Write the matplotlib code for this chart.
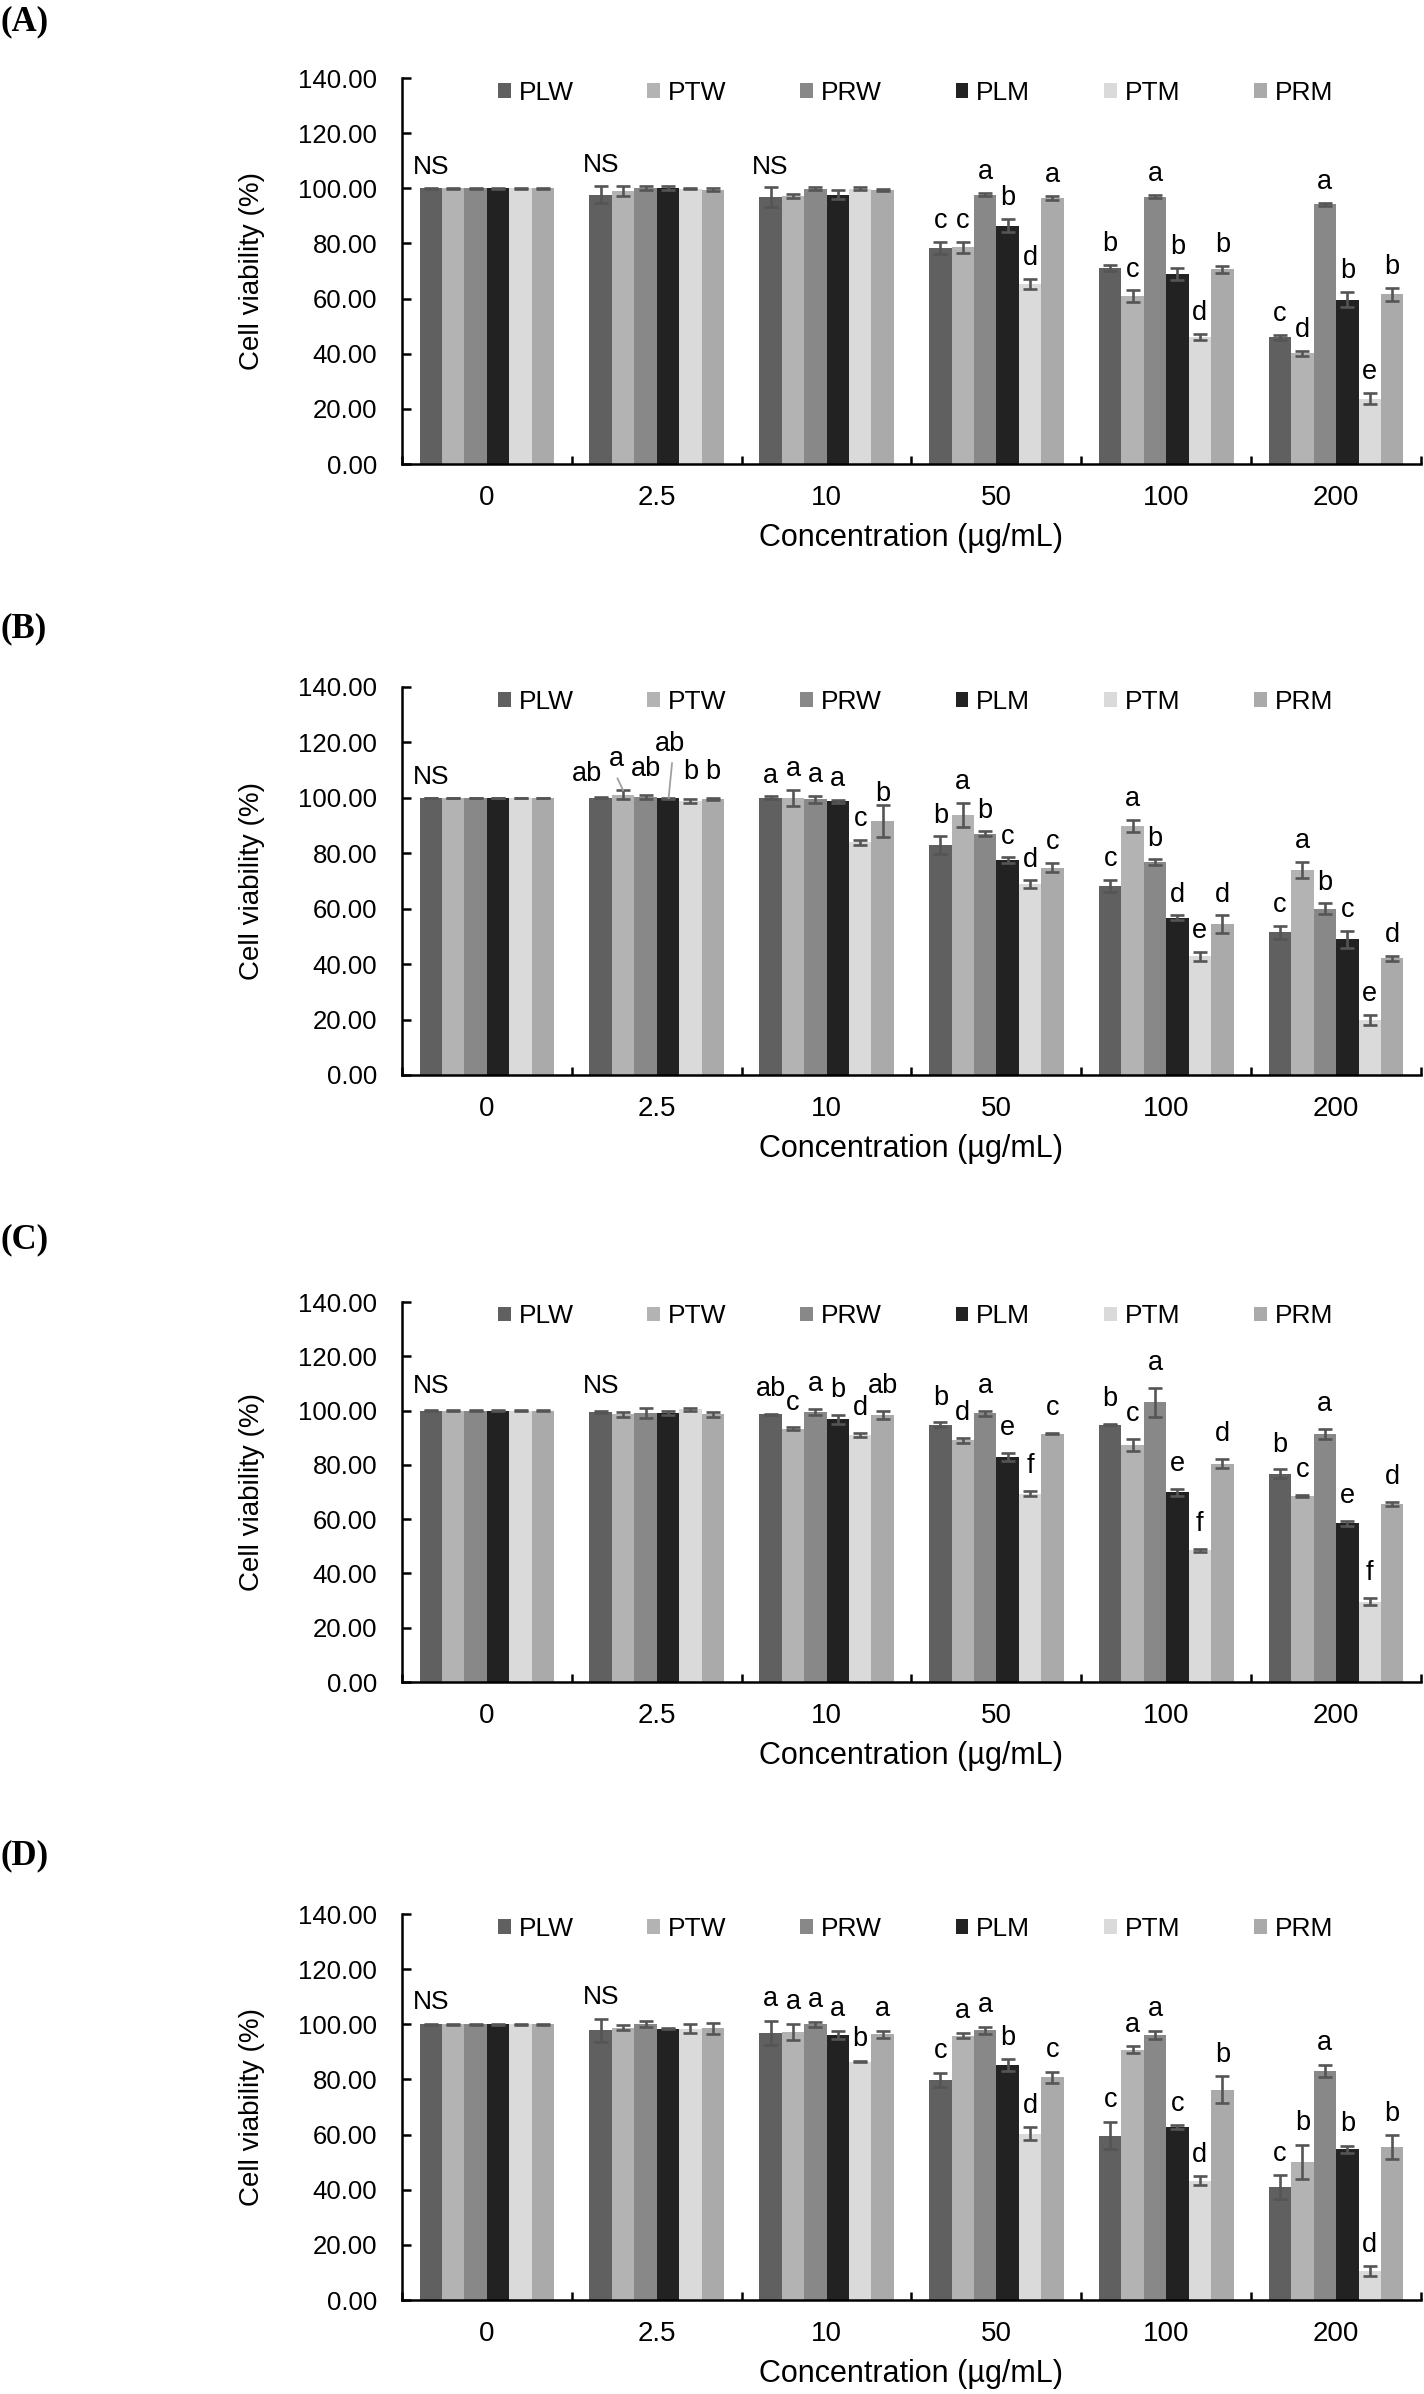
import numpy as np
import matplotlib
matplotlib.use('Agg')
import matplotlib.pyplot as plt

plt.rcParams['font.family'] = ['Liberation Sans', 'DejaVu Sans']

series = ['PLW', 'PTW', 'PRW', 'PLM', 'PTM', 'PRM']
concentrations = ['0', '2.5', '10', '50', '100', '200']
colors = ['#606060', '#b3b3b3', '#888888', '#222222', '#dadada', '#aaaaaa']

# rows = series (PLW..PRM), columns = concentration
a_mean = [[100, 97.7, 96.7, 78.3, 71.1, 45.9],
          [100, 98.9, 97.2, 78.6, 60.8, 40.2],
          [100, 100.0, 99.9, 97.7, 97.0, 94.2],
          [100, 100.2, 97.7, 86.4, 68.9, 59.6],
          [100, 99.9, 99.9, 65.3, 46.2, 23.7],
          [100, 99.5, 99.4, 96.5, 70.6, 61.5]]
a_err = [[0.1, 3.1, 3.6, 2.2, 1.1, 0.8],
         [0.1, 1.8, 0.7, 2.0, 2.2, 0.9],
         [0.1, 0.7, 0.5, 0.5, 0.5, 0.6],
         [0.1, 0.8, 1.6, 2.4, 2.3, 2.7],
         [0.1, 0.2, 0.4, 1.8, 1.1, 2.1],
         [0.1, 0.6, 0.5, 0.7, 1.2, 2.4]]
a_letters = ['NS', 'NS', 'NS', 'c c a b d a', 'b c a b d b', 'c d a b e b']

b_mean = [[100, 100.0, 100.0, 83.0, 68.1, 51.5],
          [100, 101.1, 100.1, 93.9, 89.9, 74.0],
          [100, 100.4, 99.5, 87.1, 76.8, 60.0],
          [100, 99.8, 98.7, 77.5, 56.8, 48.9],
          [100, 98.9, 83.9, 68.8, 42.8, 19.9],
          [100, 99.6, 91.6, 74.8, 54.5, 42.1]]
b_err = [[0.1, 0.2, 0.5, 3.1, 2.2, 2.3],
         [0.1, 1.6, 2.9, 4.4, 2.2, 2.8],
         [0.1, 0.7, 1.3, 0.8, 1.0, 1.9],
         [0.1, 0.2, 0.7, 1.0, 0.8, 3.1],
         [0.1, 0.6, 0.9, 1.4, 1.6, 1.7],
         [0.1, 0.4, 5.8, 1.6, 3.1, 1.0]]
b_letters = ['NS', 'ab a ab ab b b', 'a a a a c b', 'b a b c d c', 'c a b d e d', 'c a b c e d']

c_mean = [[100, 99.5, 98.6, 94.8, 94.8, 76.7],
          [100, 98.6, 93.3, 89.0, 87.4, 68.6],
          [100, 99.1, 99.6, 99.0, 103.0, 91.4],
          [100, 99.1, 96.8, 83.0, 69.9, 58.5],
          [100, 100.4, 91.0, 69.4, 48.5, 29.6],
          [100, 98.6, 98.4, 91.5, 80.5, 65.6]]
c_err = [[0.1, 0.3, 0.3, 0.9, 0.2, 1.6],
         [0.1, 1.0, 0.5, 1.0, 2.3, 0.4],
         [0.1, 1.9, 1.1, 0.9, 5.3, 1.9],
         [0.1, 0.7, 1.7, 1.4, 1.3, 0.9],
         [0.1, 0.6, 0.8, 1.0, 0.6, 1.3],
         [0.1, 0.9, 1.5, 0.3, 1.7, 0.9]]
c_letters = ['NS', 'NS', 'ab c a b d ab', 'b d a e f c', 'b c a e f d', 'b c a e f d']

d_mean = [[100, 97.8, 96.8, 79.8, 59.6, 41.0],
          [100, 98.8, 97.2, 95.9, 90.8, 50.1],
          [100, 100.1, 100.0, 97.8, 96.1, 83.1],
          [100, 98.4, 96.1, 85.1, 62.7, 54.6],
          [100, 98.4, 86.5, 60.3, 43.3, 10.5],
          [100, 98.6, 96.3, 80.8, 76.2, 55.5]]
d_err = [[0.1, 4.1, 4.4, 2.6, 5.0, 4.2],
         [0.1, 0.9, 2.9, 1.0, 1.2, 6.2],
         [0.1, 1.2, 1.0, 1.2, 1.5, 2.2],
         [0.1, 0.2, 1.6, 2.2, 0.7, 1.4],
         [0.1, 1.7, 0.3, 2.4, 1.5, 1.7],
         [0.1, 2.0, 1.4, 2.0, 4.9, 4.3]]
d_letters = ['NS', 'NS', 'a a a a b a', 'c a a b d c', 'c a a c d b', 'c b a b d b']

panels = [('(A)', a_mean, a_err, a_letters),
          ('(B)', b_mean, b_err, b_letters),
          ('(C)', c_mean, c_err, c_letters),
          ('(D)', d_mean, d_err, d_letters)]

# layout (pixels in a 1424 x 2394 figure)
W, H = 1424, 2394
ax_left, ax_right = 402, 1421
ax_tb = [(78, 464), (687, 1075), (1302, 1682), (1914, 2300)]
letter_y = [22, 629, 1240, 1856]
label_pad = [5, 5, 6.5, 5.3]
# hand placed labels: (panel, conc, bar) -> (dx, y, leader line or None)
special = {
    (1, 1, 0): (-0.08, 106.0, None),
    (1, 1, 1): (-0.04, 111.5, ((-0.033, 107.0), (0.0, 102.7))),
    (1, 1, 2): (0.0, 108.0, None),
    (1, 1, 3): (0.014, 117.0, ((0.024, 112.5), (0.004, 100.0))),
    (1, 1, 4): (0.0, 106.7, None),
    (1, 1, 5): (0.0, 106.7, None),
    (1, 2, 5): (0.0, 99.0, None),
}

bw = 0.132
fig = plt.figure(figsize=(W / 100, H / 100), dpi=100)

for p, (tag, mean, err, letters) in enumerate(panels):
    top, bot = ax_tb[p]
    ax = fig.add_axes([ax_left / W, 1 - bot / H, (ax_right - ax_left) / W, (bot - top) / H])
    x = np.arange(len(concentrations))
    for i, name in enumerate(series):
        xi = x + (i - 2.5) * bw
        ax.bar(xi, mean[i], width=bw, color=colors[i], edgecolor='none', label=name, zorder=2)
        ax.errorbar(xi, mean[i], yerr=err[i], fmt='none', ecolor='#555555',
                    elinewidth=1.9, capsize=4.8, capthick=1.9, zorder=3)

    # significance letters
    for j, lab in enumerate(letters):
        if lab == 'NS':
            xi = x[j] - 2.5 * bw
            ax.text(xi, mean[0][j] + err[0][j] + label_pad[p], 'NS', ha='center',
                    va='baseline', fontsize=19, zorder=4)
            continue
        for i, l in enumerate(lab.split()):
            xi = x[j] + (i - 2.5) * bw
            key = (p, j, i)
            if key in special:
                dx, yy, line = special[key]
                ax.text(xi + dx, yy, l, ha='center', va='baseline', fontsize=19.5, zorder=4)
                if line is not None:
                    (x0, y0), (x1, y1) = line
                    ax.plot([xi + x0, xi + x1], [y0, y1], color='#a0a0a0', lw=1.3, zorder=4)
            else:
                ax.text(xi, mean[i][j] + err[i][j] + label_pad[p], l, ha='center',
                        va='baseline', fontsize=19.5, zorder=4)

    ax.set_xlim(-0.5, 5.5)
    ax.set_ylim(0, 140)
    ax.set_yticks(np.arange(0, 141, 20))
    ax.set_yticklabels(['%.2f' % v for v in np.arange(0, 141, 20)])
    ax.set_xticks(np.arange(-0.5, 6, 1))
    ax.set_xticklabels([])
    ax.set_xticks(x, minor=True)
    ax.set_xticklabels(concentrations, minor=True)
    ax.tick_params(axis='y', direction='in', length=6.5, width=1.8, pad=18, labelsize=18.5)
    ax.tick_params(axis='x', which='major', direction='in', length=5.5, width=1.8)
    ax.tick_params(axis='x', which='minor', length=0, pad=15, labelsize=20)
    for s in ['top', 'right']:
        ax.spines[s].set_visible(False)
    for s in ['left', 'bottom']:
        ax.spines[s].set_linewidth(1.8)
    ax.set_ylabel('Cell viability (%)', fontsize=20, labelpad=24)
    ax.set_xlabel('Concentration (\u00b5g/mL)', fontsize=22, labelpad=9)

    ax.legend(loc='center', bbox_to_anchor=(0.504, 0.962), ncol=6, frameon=False,
              fontsize=19, handlelength=0.48, handleheight=0.48, handletextpad=0.3,
              columnspacing=2.8, borderpad=0)

    fig.text(1 / W, 1 - letter_y[p] / H, tag, fontfamily='Liberation Serif',
             fontweight='bold', fontsize=25, va='center', ha='left')

fig.savefig('out.png', dpi=100)
